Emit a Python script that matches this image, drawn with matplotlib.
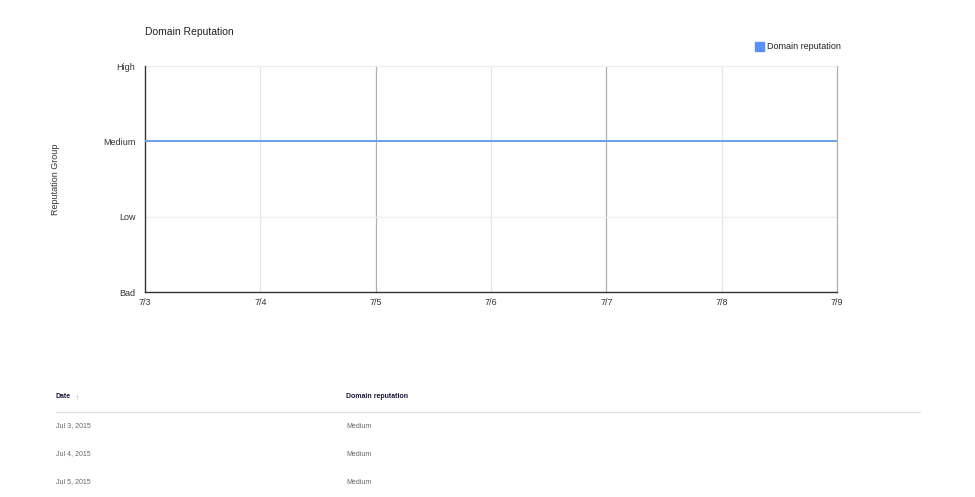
import matplotlib
matplotlib.use("Agg")
import matplotlib.pyplot as plt
import matplotlib.lines as mlines

plt.rcParams["font.family"] = ["Liberation Sans", "DejaVu Sans"]

# ── Data ─────────────────────────────────────────────────────────────────────
day_labels = ["7/3", "7/4", "7/5", "7/6", "7/7", "7/8", "7/9"]
reputation = [2, 2, 2, 2, 2, 2, 2]          # 0=Bad 1=Low 2=Medium 3=High
group_labels = ["Bad", "Low", "Medium", "High"]
major_days = [2, 4, 6]                      # darker gridlines (7/5, 7/7, 7/9)

table_dates = ["Jul 3, 2015", "Jul 4, 2015", "Jul 5, 2015"]
table_values = ["Medium", "Medium", "Medium"]

LINE = "#6d9eeb"
GRID = "#e6e6e6"
DARK_GRID = "#b0b0b0"
TXT = "#333333"

fig = plt.figure(figsize=(9.75, 4.97), dpi=100)
ax = fig.add_axes([145 / 975, 1 - 292 / 497, 692 / 975, 226 / 497])

x = list(range(len(day_labels)))
for i in x[1:]:
    ax.axvline(i, color=DARK_GRID if i in major_days else GRID, lw=0.9, zorder=0,
               clip_on=False)
for j in range(1, len(group_labels)):
    ax.axhline(j, color="#eeeeee", lw=0.9, zorder=0)

ax.plot(x, reputation, color=LINE, lw=1.4, zorder=3)

ax.set_xlim(0, len(day_labels) - 1)
ax.set_ylim(0, len(group_labels) - 1)
ax.set_xticks(x)
ax.set_xticklabels(day_labels)
ax.set_yticks(range(len(group_labels)))
ax.set_yticklabels(group_labels)
ax.tick_params(length=0, labelsize=6.5, colors=TXT)
ax.tick_params(axis="y", pad=7)
ax.tick_params(axis="x", pad=4)

for side in ["top", "right"]:
    ax.spines[side].set_visible(False)
ax.spines["left"].set_color("#333333")
ax.spines["bottom"].set_color("#333333")
ax.spines["left"].set_linewidth(1.0)
ax.spines["bottom"].set_linewidth(1.0)

ax.set_ylabel("Reputation Group", fontsize=6.5, color=TXT, labelpad=31)

fig.text(145 / 975, 1 - 32 / 497, "Domain Reputation", fontsize=7.5,
         color="#222222", va="center", ha="left")

# legend
fig.patches.append(plt.Rectangle((755 / 975, 1 - 51 / 497), 9 / 975, 9 / 497,
                                 transform=fig.transFigure, color="#5b8ff9",
                                 figure=fig))
fig.text(767 / 975, 1 - 46.5 / 497, "Domain reputation", fontsize=6.5,
         color="#222222", va="center", ha="left")

# table below chart
col_x = [56 / 975, 346 / 975]
fig.text(col_x[0], 1 - 397 / 497, "Date", fontsize=5, fontweight="bold",
         color="#1a1a3a", va="center")
fig.text(col_x[0] + 19 / 975, 1 - 398 / 497, "\u2191", fontsize=4,
         color="#bbbbbb", va="center", family="DejaVu Sans")
fig.text(col_x[1], 1 - 397 / 497, "Domain reputation", fontsize=5,
         fontweight="bold", color="#1a1a3a", va="center")
fig.add_artist(mlines.Line2D([56 / 975, 920 / 975], [1 - 412 / 497] * 2,
                             color="#dddddd", lw=0.8))
for k, (d, v) in enumerate(zip(table_dates, table_values)):
    y = 1 - (426 + 28 * k) / 497
    fig.text(col_x[0], y, d, fontsize=5, color="#666666", va="center")
    fig.text(col_x[1], y, v, fontsize=5, color="#666666", va="center")

fig.savefig("out.png", dpi=100)
plt.close(fig)
